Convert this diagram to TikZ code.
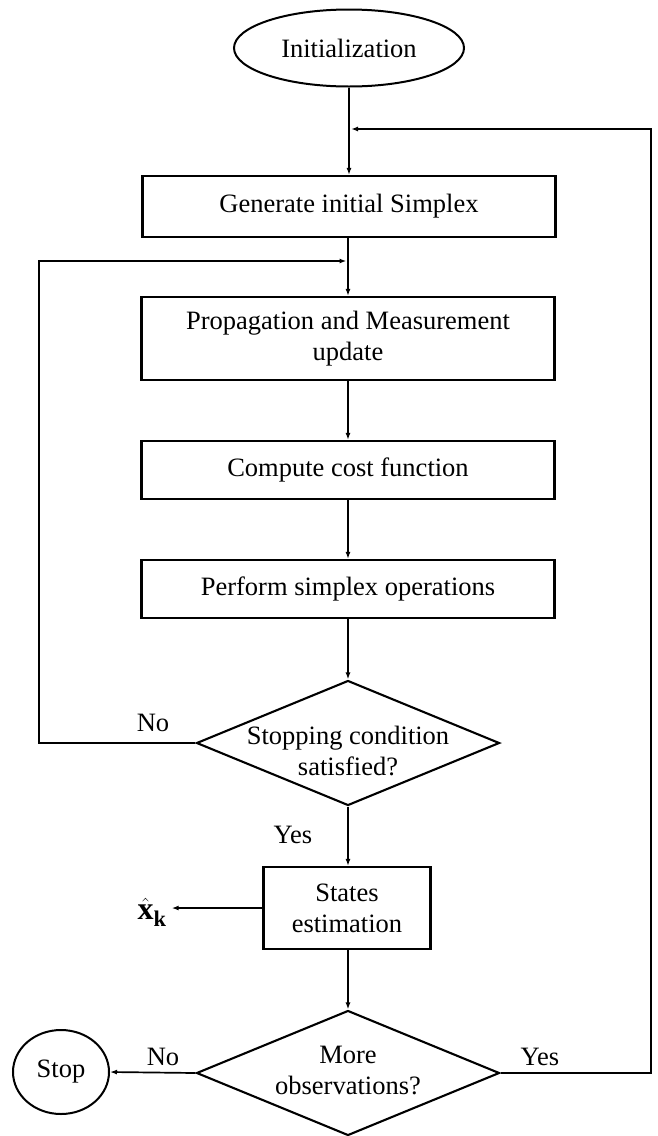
\documentclass[tikz,border=0pt]{standalone}
\usepackage{fontspec}
\setmainfont{Liberation Serif}
\usetikzlibrary{shapes.geometric,arrows.meta}
\begin{document}
\begin{tikzpicture}[x=1pt,y=-1pt,
  font=\fontsize{26.5}{31}\selectfont,
  procbox/.style={draw,line width=2.2pt,rectangle,minimum width=413pt,inner sep=0pt,align=center},
  decbox/.style={draw,line width=2.1pt,diamond,minimum width=303pt,minimum height=125pt,inner sep=0pt},
  termbox/.style={draw,line width=2pt,ellipse,inner sep=0pt},
  conn/.style={line width=1.7pt,-{Latex[length=7pt,width=5pt]}},
  lbl/.style={inner sep=0pt}]
\useasboundingbox (0,0) rectangle (657,1136);

\node[termbox,minimum width=230pt,minimum height=77pt] (init) at (349,48) {Initialization};
\node[procbox,minimum height=61pt] (gen) at (349,206.5) {Generate initial Simplex};
\node[procbox,minimum height=83pt] (prop) at (348,338.5) {Propagation and Measurement\\update};
\node[procbox,minimum height=58pt] (cost) at (348,470) {Compute cost function};
\node[procbox,minimum height=58pt] (perf) at (348,589) {Perform simplex operations};
\node[decbox,label={[align=center,yshift=-8pt]center:{Stopping condition\\satisfied?}}] (stopc) at (348,743) {};
\node[procbox,minimum width=167pt,minimum height=82pt] (est) at (347,908) {States\\estimation};
\node[decbox,label={[align=center,yshift=3pt]center:{More\\observations?}}] (more) at (348,1073) {};
\node[termbox,minimum width=96pt,minimum height=84pt] (stop) at (61,1072) {Stop};
\node[lbl,font=\fontsize{32}{36}\selectfont] (xhat) at (152,912) {$\hat{\mathbf{x}}_{\mathbf{k}}$};

\node[lbl] (no1) at (153,723) {No};
\node[lbl] (yes1) at (293,835) {Yes};
\node[lbl] (no2) at (163,1057) {No};
\node[lbl] (yes2) at (540,1057) {Yes};

\coordinate (c1) at (39,743);
\coordinate (c2) at (39,261);
\coordinate (c3) at (651,1073);
\coordinate (c4) at (651,129);

\draw[conn] (init.south) -- (init.south |- gen.north);
\draw[conn] (prop.north |- gen.south) -- (prop.north);
\draw[conn] (prop.south) -- (cost.north);
\draw[conn] (cost.south) -- (perf.north);
\draw[conn] (perf.south) -- (stopc.north);
\draw[conn] (stopc.west) -- (c1) -- (c2) -- ([xshift=-1.5pt]c2 -| prop.north);
\draw[conn] (stopc.south) -- (stopc.south |- est.north);
\draw[conn] (est.west) -- ([xshift=5pt]est.west -| xhat.east);
\draw[conn] (stopc.south |- est.south) -- (more.north);
\draw[conn] (more.west) -- (stop.east);
\draw[conn] (more.east) -- (c3) -- (c4) -- ([xshift=2pt]c4 -| init.south);
\end{tikzpicture}
\end{document}
